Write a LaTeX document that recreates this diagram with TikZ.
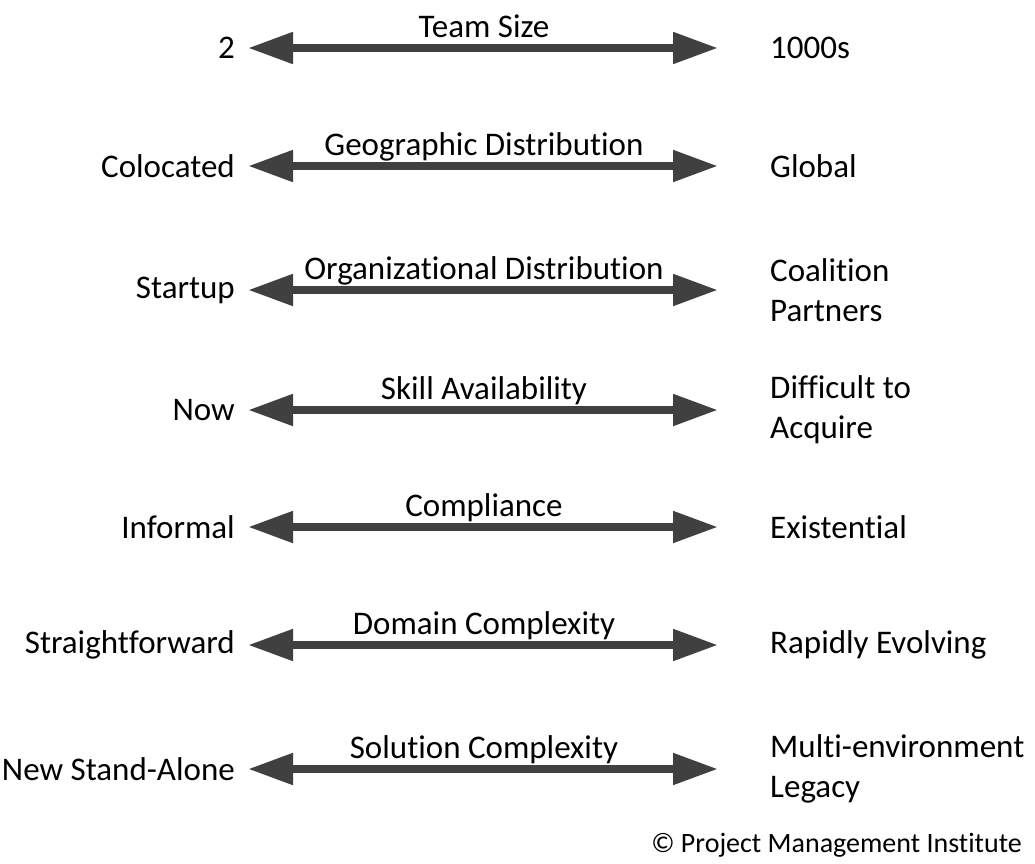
\documentclass[tikz,border=0pt]{standalone}
\usepackage{fontspec}
\setmainfont{Carlito}[Ligatures=NoCommon]
\usetikzlibrary{arrows.meta}

\definecolor{bargray}{HTML}{404040}

\begin{document}
\begin{tikzpicture}[
    x=1pt, y=-1pt,
    font=\fontsize{33}{40}\selectfont,
    side/.style={inner sep=0pt, align=left},
    topic/.style={inner sep=0pt, anchor=base},
    ar/.style={{Triangle[length=45pt, width=30pt]}-{Triangle[length=45pt, width=30pt]},
               line width=8pt, bargray}
]
\useasboundingbox (0,0) rectangle (1035,863);
% one row per dimension: y / left end / topic / right end
\foreach \i/\y/\lo/\mid/\hi in {
    1/48/2/Team Size/1000s,
    2/166/Colocated/Geographic Distribution/Global,
    3/290/Startup/Organizational Distribution/{Coalition\\Partners},
    4/410/Now/Skill Availability/{Difficult to\\Acquire},
    5/527/Informal/Compliance/Existential,
    6/645/Straightforward/Domain Complexity/Rapidly Evolving,
    7/769/New Stand-Alone/Solution Complexity/{Multi-environment\\Legacy}}
{
   \coordinate (a\i) at (248,\y);
   \coordinate (b\i) at (718,\y);
   \node[side, anchor=east] (lo\i) at (235,\y) {\lo};
   \node[side, anchor=west] (hi\i) at (770,\y) {\hi};
   \node[topic] (mid\i) at (484,\y-11) {\mid};
   \draw[ar] (a\i) -- (b\i);
}
% source line
\node[inner sep=0pt, anchor=east, font=\fontsize{28}{34}\selectfont] (src) at (1022,845)
   {© Project Management Institute};
\end{tikzpicture}
\end{document}
